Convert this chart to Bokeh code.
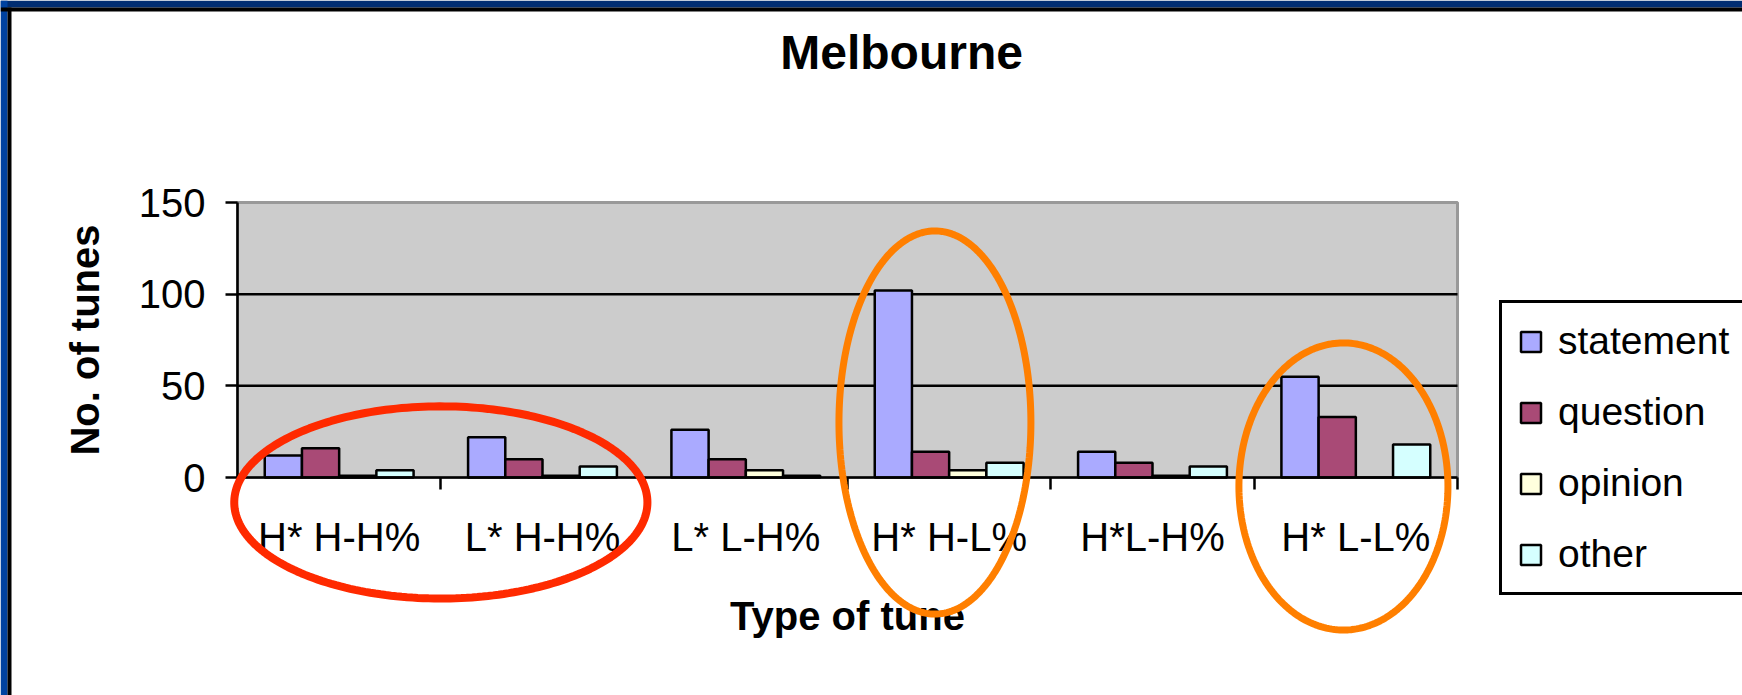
import numpy as np
from bokeh.plotting import figure
from bokeh.models import (FixedTicker, LinearAxis, Range1d, Legend, LegendItem,
                          PolyAnnotation, BoxAnnotation, ColumnDataSource, Label)
from bokeh.embed import file_html
from bokeh.resources import INLINE

# ---- data ----
categories = ["H* H-H%", "L* H-H%", "L* L-H%", "H* H-L%", "H*L-H%", "H* L-L%"]
statement = [12, 22, 26, 102, 14, 55]
question = [16, 10, 10, 14, 8, 33]
opinion = [1, 1, 4, 4, 1, 0]
other = [4, 6, 1, 8, 6, 18]
series_names = ["statement", "question", "opinion", "other"]
series_values = [statement, question, opinion, other]
colors = ["#AAAAFF", "#A94A76", "#FFFFDD", "#D5FFFF"]
y_ticks = [0, 50, 100, 150]
grid_ticks = [50, 100]
y_max = 150

# hand-drawn highlight ellipses (x in category units, y in data units)
ellipse_cx = [1.0, 3.43, 5.439]
ellipse_cy = [-13.6, 30.0, -4.9]
ellipse_rx = [1.016, 0.472, 0.514]
ellipse_ry = [52.4, 104.5, 78.3]
ellipse_colors = ["#FF2A00", "#FF7F00", "#FF7F00"]
ellipse_widths = [8, 7, 7]

FONT = "Liberation Sans"
W, H = 1742, 695
n = len(categories)

# layout of the plot area inside the canvas (pixels)
PA_LEFT, PA_RIGHT, PA_TOP, PA_BOTTOM = 237, 1457, 202, 477
px_x = (PA_RIGHT - PA_LEFT) / n
px_y = (PA_BOTTOM - PA_TOP) / y_max
x_range = Range1d(-PA_LEFT / px_x, n + (W - PA_RIGHT) / px_x)
y_range = Range1d(-(H - PA_BOTTOM) / px_y, y_max + PA_TOP / px_y)

p = figure(width=W, height=H, output_backend="svg", toolbar_location=None,
           x_range=x_range, y_range=y_range,
           x_axis_type=None, y_axis_type=None,
           min_border=0, min_border_left=0, min_border_right=0,
           min_border_top=0, min_border_bottom=0)
p.background_fill_color = "white"
p.border_fill_color = "white"
p.outline_line_color = None

# plot area (grey) with grey outline
p.add_layout(BoxAnnotation(left=0, right=n, bottom=0, top=y_max,
                           fill_color="#CCCCCC", fill_alpha=1,
                           line_color="#999999", line_width=3, line_alpha=1,
                           level="underlay"))

# gridlines
p.segment(x0=[0] * len(grid_ticks), x1=[n] * len(grid_ticks),
          y0=grid_ticks, y1=grid_ticks, line_color="black", line_width=2.5)

# bars
bar_w = 0.183
offsets = [-1.5 * bar_w, -0.5 * bar_w, 0.5 * bar_w, 1.5 * bar_w]
centers = [i + 0.5 for i in range(n)]
items = []
for name, vals, col, off in zip(series_names, series_values, colors, offsets):
    src = ColumnDataSource(dict(x=[c + off for c in centers], top=vals))
    r = p.vbar(x="x", top="top", width=bar_w, source=src, fill_color=col,
               line_color="black", line_width=2.5)
    items.append(LegendItem(label=name, renderers=[r]))

# y axis (crossing at x = 0)
yaxis = LinearAxis(ticker=FixedTicker(ticks=y_ticks), axis_label="No. of tunes",
                   fixed_location=0, bounds=(0, y_max))
yaxis.axis_label_text_font = FONT
yaxis.axis_label_text_font_size = "40px"
yaxis.axis_label_text_font_style = "bold"
yaxis.axis_label_text_color = "black"
yaxis.axis_label_standoff = 29
yaxis.major_label_text_font = FONT
yaxis.major_label_text_font_size = "40px"
yaxis.major_label_text_color = "black"
yaxis.major_label_standoff = 20
yaxis.major_tick_out = 12
yaxis.major_tick_in = 0
yaxis.major_tick_line_width = 2.5
yaxis.minor_tick_line_color = None
yaxis.axis_line_width = 2.5
p.add_layout(yaxis, "left")

# x axis (at y = 0): labels at category centres, ticks at category boundaries
xaxis = LinearAxis(ticker=FixedTicker(ticks=centers, minor_ticks=list(range(n + 1))),
                   axis_label="Type of tune", fixed_location=0, bounds=(0, n))
xaxis.major_label_overrides = {c: lab for c, lab in zip(centers, categories)}
xaxis.major_tick_out = 0
xaxis.major_tick_in = 0
xaxis.major_tick_line_color = None
xaxis.minor_tick_out = 12
xaxis.minor_tick_in = 0
xaxis.minor_tick_line_width = 2.5
xaxis.minor_tick_line_color = "black"
xaxis.axis_line_width = 2.5
xaxis.major_label_text_font = FONT
xaxis.major_label_text_font_size = "40px"
xaxis.major_label_text_color = "black"
xaxis.major_label_standoff = 25
xaxis.axis_label_text_font = FONT
xaxis.axis_label_text_font_size = "40px"
xaxis.axis_label_text_font_style = "bold"
xaxis.axis_label_text_color = "black"
xaxis.axis_label_standoff = 32
p.add_layout(xaxis, "below")

# title
p.add_layout(Label(x=3.266, y=y_max + (PA_TOP - 52) / px_y, text="Melbourne",
                   text_align="center", text_baseline="alphabetic",
                   text_font=FONT, text_font_size="48px", text_font_style="bold",
                   text_color="black"))

# legend
legend = Legend(items=items, location=(1499, H - 595))
legend.border_line_color = "black"
legend.border_line_width = 3
legend.border_line_alpha = 1
legend.background_fill_color = "white"
legend.background_fill_alpha = 1
legend.label_text_font = FONT
legend.label_text_font_size = "39px"
legend.label_text_color = "black"
legend.glyph_width = 25
legend.glyph_height = 25
legend.label_height = 44
legend.spacing = 27
legend.padding = 16
legend.margin = 0
legend.label_standoff = 15
p.add_layout(legend)

# ellipses
t = np.linspace(0, 2 * np.pi, 240)
for cx, cy, rx, ry, col, lw in zip(ellipse_cx, ellipse_cy, ellipse_rx, ellipse_ry,
                                   ellipse_colors, ellipse_widths):
    p.add_layout(PolyAnnotation(xs=list(cx + rx * np.cos(t)), ys=list(cy + ry * np.sin(t)),
                                xs_units="data", ys_units="data",
                                fill_color=None, fill_alpha=0,
                                line_color=col, line_alpha=1, line_width=lw))

# slide frame (blue band + black rule)
frame_boxes = [(0, W, 0, 7, "#002D72"), (0, 7, 0, H, "#0042A0"),
               (0, W, 7, 11, "black"), (7, 11, 7, H, "black")]
for (l, r_, tp, bt, col) in frame_boxes:
    p.add_layout(BoxAnnotation(left=l, right=r_, top=tp, bottom=bt,
                               left_units="canvas", right_units="canvas",
                               top_units="canvas", bottom_units="canvas",
                               fill_color=col, fill_alpha=1, line_color=None))

open("out.html", "w").write(file_html(p, INLINE))
